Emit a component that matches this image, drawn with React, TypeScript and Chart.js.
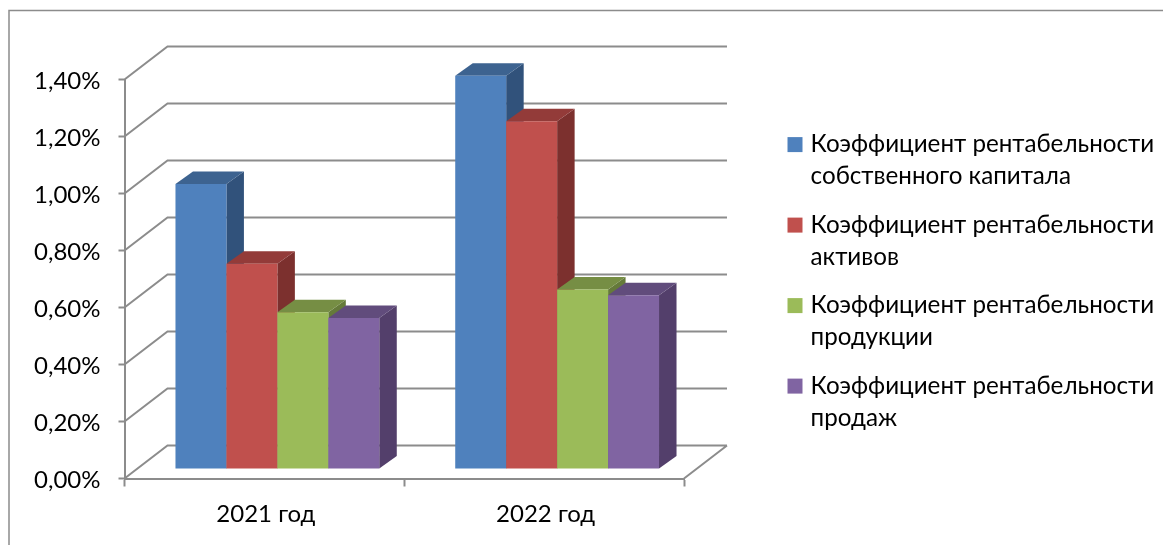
import React, { useEffect, useRef } from "react";
import { Chart, registerables } from "chart.js";

Chart.register(...registerables);

const categories = ["2021 год", "2022 год"];
const seriesNames = [
  ["Коэффициент рентабельности", "собственного капитала"],
  ["Коэффициент рентабельности", "активов"],
  ["Коэффициент рентабельности", "продукции"],
  ["Коэффициент рентабельности", "продаж"],
];
const equityReturn = [1.0, 1.38];
const assetReturn = [0.72, 1.22];
const productReturn = [0.55, 0.63];
const salesReturn = [0.53, 0.61];
const seriesValues = [equityReturn, assetReturn, productReturn, salesReturn];

const frontColors = ["#4F81BD", "#C0504D", "#9BBB59", "#8064A2"];
const topColors = ["#3D6390", "#933B39", "#768E44", "#614C7C"];
const sideColors = ["#31527B", "#7C302E", "#657A3A", "#533F6B"];

const AXIS_GRAY = "#8C8C8C";
const FONT_FAMILY = "Lato, 'Noto Sans', sans-serif";
const FONT_SIZE = 24;
const LEGEND_FONT_SIZE = 24.2;

// Oblique projection: wall offset behind the axes, bar plane offset and bar depth.
const WALL_DX = 43;
const WALL_DY = -33;
const BAR_SHIFT_X = 13;
const BAR_SHIFT_Y = -9.5;
const BAR_DEPTH_X = 17.5;
const BAR_DEPTH_Y = -12.5;

const fillPoly = (ctx: CanvasRenderingContext2D, color: string, pts: number[][]) => {
  ctx.fillStyle = color;
  ctx.beginPath();
  pts.forEach(([x, y], i) => (i ? ctx.lineTo(x, y) : ctx.moveTo(x, y)));
  ctx.closePath();
  ctx.fill();
};

const framePlugin = {
  id: "frame",
  beforeDraw(chart: any) {
    const { ctx, width, height } = chart;
    ctx.save();
    ctx.fillStyle = "#FFFFFF";
    ctx.fillRect(0, 0, width, height);
    ctx.strokeStyle = AXIS_GRAY;
    ctx.lineWidth = 1.5;
    ctx.beginPath();
    ctx.moveTo(9, height);
    ctx.lineTo(9, 10.5);
    ctx.lineTo(width, 10.5);
    ctx.stroke();
    ctx.restore();
  },
};

// Moves the legend into the free column right of the plot.
const legendPlacement = {
  id: "legendPlacement",
  afterLayout(chart: any) {
    const legend = chart.legend;
    legend.left = 775;
    legend.right = chart.width;
    legend.top = 116;
    legend.bottom = chart.height;
  },
};

const depthPlugin = {
  id: "depth",
  beforeDatasetsDraw(chart: any) {
    const { ctx, chartArea, scales } = chart;
    const { left, right, bottom } = chartArea;

    // Back wall and floor lines, one per value tick.
    ctx.save();
    ctx.strokeStyle = AXIS_GRAY;
    ctx.lineWidth = 2;
    ctx.beginPath();
    scales.y.ticks.forEach((tick: any) => {
      const y = scales.y.getPixelForValue(tick.value);
      ctx.moveTo(left, y);
      ctx.lineTo(left + WALL_DX, y + WALL_DY);
      ctx.lineTo(right + WALL_DX, y + WALL_DY);
    });
    ctx.moveTo(right, bottom);
    ctx.lineTo(right + WALL_DX, bottom + WALL_DY);
    ctx.stroke();

    // Bars are painted left to right so each one covers its neighbour's side face.
    ctx.translate(BAR_SHIFT_X, BAR_SHIFT_Y);
    chart.data.datasets.forEach((_: any, i: number) => {
      chart.getDatasetMeta(i).data.forEach((bar: any) => {
        const { x, y, base, width } = bar.getProps(["x", "y", "base", "width"]);
        const l = x - width / 2;
        const r = x + width / 2;
        fillPoly(ctx, sideColors[i], [
          [r, y],
          [r + BAR_DEPTH_X, y + BAR_DEPTH_Y],
          [r + BAR_DEPTH_X, base + BAR_DEPTH_Y],
          [r, base],
        ]);
        fillPoly(ctx, topColors[i], [
          [l, y],
          [l + BAR_DEPTH_X, y + BAR_DEPTH_Y],
          [r + BAR_DEPTH_X, y + BAR_DEPTH_Y],
          [r, y],
        ]);
        bar.draw(ctx);
      });
    });
    ctx.restore();
    return false;
  },
};

export default function App() {
  const canvasRef = useRef<HTMLCanvasElement>(null);

  useEffect(() => {
    const chart = new Chart(canvasRef.current!, {
      type: "bar",
      data: {
        labels: categories,
        datasets: seriesValues.map((data, i) => ({
          label: seriesNames[i].join(" "),
          data,
          backgroundColor: frontColors[i],
          categoryPercentage: 0.7285,
          barPercentage: 1,
        })),
      },
      options: {
        responsive: false,
        animation: false,
        layout: { padding: { left: 0, top: 79.5, right: 379, bottom: 0 } },
        plugins: {
          title: { display: false },
          tooltip: { enabled: false },
          legend: {
            position: "right",
            align: "start",
            maxWidth: 100,
            labels: {
              color: "#000000",
              font: { family: FONT_FAMILY, size: LEGEND_FONT_SIZE, lineHeight: "32px" },
              padding: 16.5,
              boxWidth: 7,
              boxHeight: 7,
              generateLabels: () =>
                seriesNames.map((text, i) => ({
                  text,
                  fillStyle: frontColors[i],
                  strokeStyle: frontColors[i],
                  lineWidth: 8,
                  datasetIndex: i,
                })) as any,
            },
          },
        },
        scales: {
          x: {
            afterFit: (s: any) => {
              s.height = 66.5;
            },
            border: { color: AXIS_GRAY, width: 2 },
            grid: {
              drawOnChartArea: false,
              drawTicks: true,
              tickLength: 8,
              tickColor: AXIS_GRAY,
              tickWidth: 2,
              offset: true,
            },
            ticks: {
              color: "#000000",
              font: { family: FONT_FAMILY, size: FONT_SIZE },
              padding: 13,
              labelOffset: 1.5,
              maxRotation: 0,
            },
          },
          y: {
            min: 0,
            max: 1.4,
            afterFit: (s: any) => {
              s.width = 124.5;
            },
            border: { color: AXIS_GRAY, width: 2 },
            grid: {
              drawOnChartArea: false,
              drawTicks: true,
              tickLength: 6,
              tickColor: AXIS_GRAY,
              tickWidth: 2,
            },
            ticks: {
              stepSize: 0.2,
              color: "#000000",
              font: { family: FONT_FAMILY, size: FONT_SIZE },
              padding: 18,
              labelOffset: 2,
              callback: (v: any) => Number(v).toFixed(2).replace(".", ",") + "%",
            },
          },
        },
      },
      plugins: [framePlugin, legendPlacement, depthPlugin],
    });
    return () => chart.destroy();
  }, []);

  return (
    <div style={{ position: "fixed", left: 0, top: 0, width: 1163, height: 545 }}>
      <canvas ref={canvasRef} width={1163} height={545} style={{ display: "block" }} />
    </div>
  );
}
